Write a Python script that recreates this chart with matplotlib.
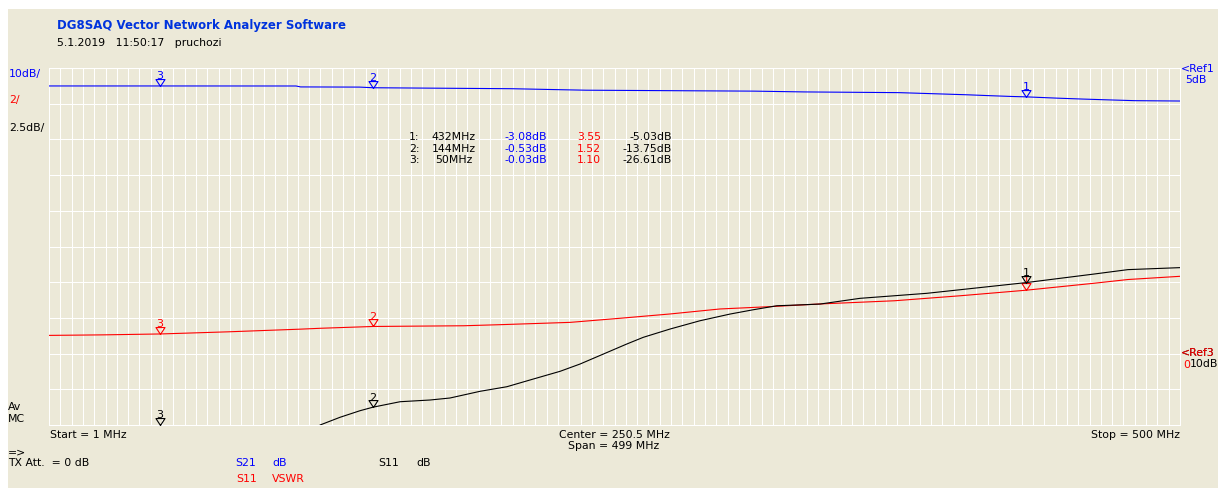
import numpy as np
import matplotlib
matplotlib.use("Agg")
import matplotlib.pyplot as plt
from matplotlib.patches import Rectangle

# ---------------- data ----------------
# S21 (dB), blue trace
s21_freq = [1, 50, 110, 112, 138, 144, 205, 222, 238, 312, 334, 376, 386, 396, 406,
            416, 426, 432, 446, 457, 468, 480, 500]
s21_db = [-0.03, -0.03, -0.04, -0.30, -0.35, -0.53, -0.80, -1.02, -1.22, -1.48, -1.70,
          -1.90, -2.10, -2.30, -2.50, -2.75, -2.98, -3.08, -3.45, -3.70, -3.92, -4.15, -4.25]

# S11 VSWR, red trace
vswr_freq = [1, 25, 50, 80, 112, 121, 144, 184, 200, 231, 253, 275, 297, 319, 341,
             374, 403, 432, 462, 477, 500]
vswr = [1.02, 1.05, 1.10, 1.22, 1.37, 1.42, 1.52, 1.56, 1.62, 1.75, 1.98, 2.22, 2.50,
        2.63, 2.78, 2.96, 3.24, 3.55, 3.94, 4.15, 4.33]

# S11 (dB), black trace
s11_freq = [50, 100, 120.6, 129.4, 138.2, 144, 155.9, 169.1, 177.9, 191.2, 203, 214.7,
            226.5, 235.3, 245.6, 255.9, 263.2, 275, 288.2, 301.5, 311.7, 322.1, 333.8,
            341.2, 358.8, 388.2, 432, 462, 477, 500]
s11_db = [-26.61, -19.0, -15.0, -14.46, -14.0, -13.75, -13.37, -13.25, -13.11, -12.64,
          -12.32, -11.78, -11.24, -10.73, -10.03, -9.33, -8.86, -8.28, -7.70, -7.23,
          -6.93, -6.65, -6.58, -6.53, -6.13, -5.78, -5.03, -4.43, -4.12, -3.98]

# marker table
marker_ids = ["1", "2", "3"]
marker_freq = [432, 144, 50]
marker_freq_txt = ["432MHz", "144MHz", "50MHz"]
marker_s21 = [-3.08, -0.53, -0.03]
marker_vswr = [3.55, 1.52, 1.10]
marker_s11 = [-5.03, -13.75, -26.61]

f_start, f_stop = 1, 500

# ---------------- style ----------------
BG = "#ECE9D8"
BLUE = "#0000FF"
TITLE_BLUE = "#0033DD"
RED = "#FF0000"
BLACK = "#000000"
FONT = "DejaVu Sans"
FS = 7.8

W, H = 1218, 489
fig = plt.figure(figsize=(W / 100, H / 100), dpi=100, facecolor="white")
fig.patches.append(Rectangle((8 / W, 0), 1 - 8 / W, 1 - 10 / H,
                             transform=fig.transFigure, facecolor=BG,
                             edgecolor="none", zorder=-10))

L, R, T, B = 49, 1180, 69, 426
ax = fig.add_axes([L / W, (H - B) / H, (R - L) / W, (B - T) / H])
ax.set_facecolor(BG)
ax.set_xlim(f_start, f_stop)
ax.set_ylim(0, 10)
ax.set_xticks(np.linspace(f_start, f_stop, 101))
ax.set_yticks(np.arange(0, 11))
ax.tick_params(length=0, labelbottom=False, labelleft=False)
ax.grid(True, color="white", lw=0.75)
for s in ax.spines.values():
    s.set_color("white")
    s.set_linewidth(0.75)

def twin(lo, hi):
    a = ax.twinx()
    a.set_ylim(lo, hi)
    a.axis("off")
    a.set_xlim(f_start, f_stop)
    return a

ax_b = twin(5 - 100, 5)          # 10 dB/div, Ref1 = 5 dB at top
ax_r = twin(-4, 16)              # 2 /div, Ref = 0 at 8th div from top
ax_k = twin(-15, 10)             # 2.5 dB/div, Ref3 = -10 dB

ax_b.plot(s21_freq, s21_db, color=BLUE, lw=0.8)
ax_r.plot(vswr_freq, vswr, color=RED, lw=0.8)
ax_k.plot(s11_freq, s11_db, color=BLACK, lw=0.8)

tri = [(0, 0), (-0.65, 1), (0.65, 1), (0, 0)]

def draw_markers(a, vals, color):
    lo, hi = a.get_ylim()
    for mid, f, v in zip(marker_ids, marker_freq, vals):
        vv = min(max(v, lo), hi)
        a.plot([f], [vv], marker=tri, markersize=10, markerfacecolor="none",
               markeredgecolor=color, markeredgewidth=0.8, clip_on=False, ls="none")
        a.annotate(mid, (f, vv), xytext=(0, 5.5), textcoords="offset points",
                   ha="center", va="baseline", color=color, fontsize=8,
                   family=FONT, annotation_clip=False)

draw_markers(ax_b, marker_s21, BLUE)
draw_markers(ax_r, marker_vswr, RED)
draw_markers(ax_k, marker_s11, BLACK)

def px(x, y, s, color=BLACK, ha="left", va="center", size=FS, weight="normal"):
    fig.text(x / W, 1 - y / H, s, color=color, ha=ha, va=va, fontsize=size,
             family=FONT, fontweight=weight)

# header
px(57, 25.5, "DG8SAQ Vector Network Analyzer Software", TITLE_BLUE, size=8.5, weight="bold")
px(57, 43, "5.1.2019   11:50:17   pruchozi")

# scale labels left
px(9, 74.5, "10dB/", BLUE)
px(9, 100.5, "2/", RED)
px(9, 127.5, "2.5dB/", BLACK)

# reference labels right
px(1181, 69, "<Ref1", BLUE)
px(1185, 80, "5dB", BLUE)
px(1181, 353, "<Ref3", BLACK)
px(1181, 353.5, "<Ref3", RED)
px(1190, 364, "10dB", BLACK)
px(1183, 364.5, "0", RED)

# marker table
row_y = [137, 148.5, 160]
for i in range(3):
    y = row_y[i]
    px(409, y, marker_ids[i] + ":")
    px(454, y, marker_freq_txt[i], ha="center")
    px(547, y, f"{marker_s21[i]:.2f}dB", BLUE, ha="right")
    px(601, y, f"{marker_vswr[i]:.2f}", RED, ha="right")
    px(672, y, f"{marker_s11[i]:.2f}dB", BLACK, ha="right")

# bottom annotations
px(8, 407, "Av")
px(8, 419, "MC")
px(50, 434.5, f"Start = {f_start} MHz")
px(614, 434.5, f"Center = {(f_start + f_stop) / 2:.1f} MHz", ha="center")
px(614, 446, f"Span = {f_stop - f_start} MHz", ha="center")
px(1180, 434.5, f"Stop = {f_stop} MHz", ha="right")
px(8, 452, "=>")
px(8, 463, "TX Att.  = 0 dB")
px(235, 463, "S21", BLUE)
px(272, 463, "dB", BLUE)
px(378, 463, "S11", BLACK)
px(416, 463, "dB", BLACK)
px(236, 479, "S11", RED)
px(272, 479, "VSWR", RED)

fig.savefig("out.png", dpi=100, facecolor=fig.get_facecolor())
